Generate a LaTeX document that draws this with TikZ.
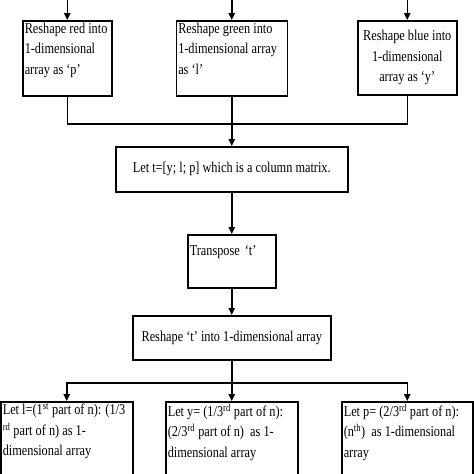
\documentclass[tikz,border=0pt]{standalone}
\usepackage{fontspec}
\setmainfont{Liberation Serif}[FakeStretch=0.82]
\usepackage{tikz}
\usetikzlibrary{arrows.meta}
\newcommand{\topbox}[3]{\parbox[t][#2pt][t]{#1pt}{\raggedright #3}}
\tikzset{
  stepbox/.style={draw, line width=1.5pt, anchor=north west, inner sep=2pt,
    font=\fontsize{15}{20.5}\selectfont},
  midbox/.style={stepbox, inner sep=0pt, align=center},
  link/.style={line width=1.5pt},
  flow/.style={link, -{Triangle[length=7pt,width=6.5pt]}}
}

\begin{document}
\begin{tikzpicture}[x=1pt,y=-1pt]
\useasboundingbox (0,0) rectangle (474,474);
\clip (0,0) rectangle (474,474);

%%reshape the three colours
\node[stepbox] (red) at (22,20) {\topbox{85}{71}{Reshape red into\\1-dimensional\\array as `p'}};
\node[stepbox] (green) at (175.5,20) {\topbox{107}{71}{Reshape green into\\1-dimensional array\\as `l'}};
\node[midbox, minimum width=99pt, minimum height=74pt] (blue) at (357,20) {Reshape blue into\\1-dimensional\\array as `y'};
\foreach \b in {red,green,blue}
{
\coordinate (in\b) at (\b.north |- 0,0);
\draw[flow] (in\b) -- (\b.north);
}

%%column matrix
\coordinate (join) at (green.south |- 0,124);
\node[midbox, minimum width=232pt, minimum height=45pt] (let) at (115,146) {Let t=[y; l; p] which is a column matrix.};
\draw[link] (red.south) |- (join) -| (blue.south);
\draw[link] (green.south) -- (join);
\draw[flow] (join) -- (let.north);

%%transpose and reshape
\node[stepbox, inner sep=2pt, text width=84pt, align=left, minimum height=53pt] (transpose) at (187,234) {Transpose `t'\\\mbox{}};
\node[midbox, minimum width=198pt, minimum height=44pt] (reshape) at (132,315) {Reshape `t' into 1-dimensional array};
\draw[flow] (let) -- (transpose);
\draw[flow] (transpose) -- (reshape);

%%the three parts of n
\node[stepbox] (lpart) at (0,401) {\topbox{128}{90}{Let l=(1\textsuperscript{st} part of n): (1/3\\\textsuperscript{rd} part of n) as 1-\\dimensional array}};
\node[stepbox] (ypart) at (165,401) {\topbox{128}{90}{Let y= (1/3\textsuperscript{rd} part of n):\\(2/3\textsuperscript{rd} part of n)\ \ as 1-\\dimensional array}};
\node[stepbox] (ppart) at (341,401) {\topbox{127}{90}{Let p= (2/3\textsuperscript{rd} part of n):\\(n\textsuperscript{th})\ \ as 1-dimensional\\array}};
\coordinate (split) at (reshape.south |- 0,383);
\draw[link] (reshape.south) -- (split);
\foreach \b in {lpart,ypart,ppart}
\draw[flow] (split) -| (\b.north);

\end{tikzpicture}
\end{document}
